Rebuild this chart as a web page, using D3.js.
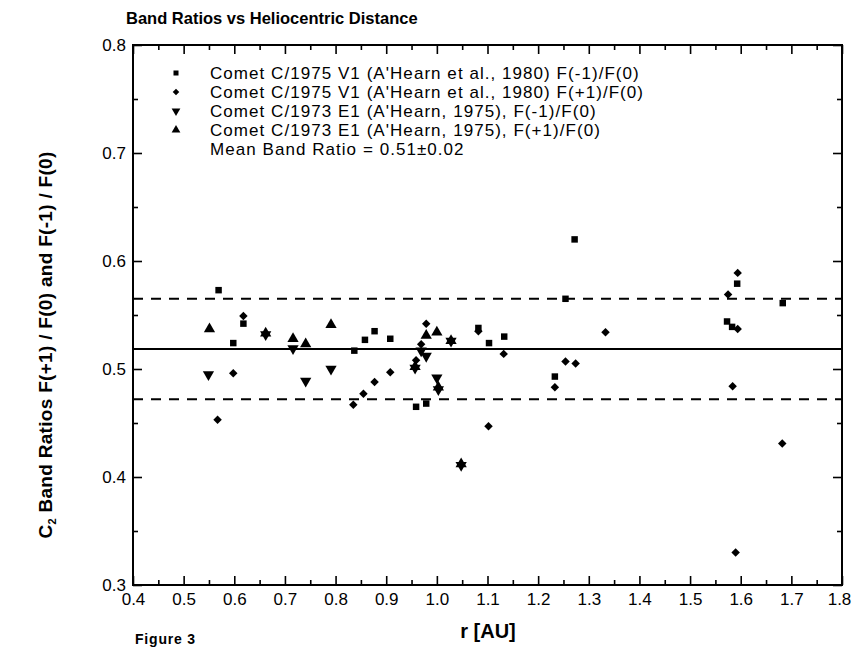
<!DOCTYPE html>
<html>
<head>
<meta charset="utf-8">
<script src="https://cdn.jsdelivr.net/npm/d3@7"></script>
<style>
  body { margin: 0; background: #fff; }
  svg { display: block; font-family: "Liberation Sans", Arial, sans-serif; }
</style>
</head>
<body>
<div id="chart"></div>
<script>
// C/1975 V1 (A'Hearn et al., 1980) F(-1)/F(0)  [r, ratio]
var v1Minus = [
  [0.569, 0.573], [0.598, 0.524], [0.618, 0.542], [0.837, 0.517], [0.858, 0.527],
  [0.877, 0.535], [0.908, 0.528], [0.959, 0.465], [0.979, 0.468], [1.082, 0.538],
  [1.103, 0.524], [1.133, 0.530], [1.233, 0.493], [1.254, 0.565], [1.272, 0.620],
  [1.573, 0.544], [1.583, 0.539], [1.593, 0.579], [1.683, 0.561]
];
// C/1975 V1 (A'Hearn et al., 1980) F(+1)/F(0)
var v1Plus = [
  [0.567, 0.453], [0.598, 0.496], [0.618, 0.549], [0.835, 0.467], [0.855, 0.477],
  [0.877, 0.488], [0.908, 0.497], [0.959, 0.508], [0.969, 0.523], [0.979, 0.542],
  [1.082, 0.535], [1.102, 0.447], [1.132, 0.514], [1.233, 0.483], [1.254, 0.507],
  [1.274, 0.505], [1.333, 0.534], [1.575, 0.569], [1.584, 0.484], [1.594, 0.589],
  [1.594, 0.537], [1.590, 0.330], [1.682, 0.431]
];
// C/1973 E1 (A'Hearn, 1975) F(-1)/F(0)
var e1Minus = [
  [0.549, 0.494], [0.662, 0.531], [0.716, 0.518], [0.741, 0.488], [0.791, 0.499],
  [0.957, 0.500], [0.969, 0.516], [0.979, 0.511], [1.000, 0.491], [1.003, 0.480],
  [1.028, 0.525], [1.048, 0.410]
];
// C/1973 E1 (A'Hearn, 1975) F(+1)/F(0)
var e1Plus = [
  [0.551, 0.538], [0.662, 0.534], [0.716, 0.529], [0.741, 0.524], [0.791, 0.542],
  [0.957, 0.503], [0.979, 0.532], [1.000, 0.535], [1.003, 0.484], [1.028, 0.527],
  [1.048, 0.413]
];

var legendLabels = [
  "Comet C/1975 V1 (A'Hearn et al., 1980) F(-1)/F(0)",
  "Comet C/1975 V1 (A'Hearn et al., 1980) F(+1)/F(0)",
  "Comet C/1973 E1 (A'Hearn, 1975), F(-1)/F(0)",
  "Comet C/1973 E1 (A'Hearn, 1975), F(+1)/F(0)"
];
var meanLabel = "Mean Band Ratio = 0.51\u00b10.02";

var meanRatio = 0.5185;
var meanBand = 0.0465;

var xMajor = [0.4, 0.5, 0.6, 0.7, 0.8, 0.9, 1.0, 1.1, 1.2, 1.3, 1.4, 1.5, 1.6, 1.7, 1.8];
var xMinor = [0.45, 0.55, 0.65, 0.75, 0.85, 0.95, 1.05, 1.15, 1.25, 1.35, 1.45, 1.55, 1.65, 1.75];
var yMajor = [0.3, 0.4, 0.5, 0.6, 0.7, 0.8];
var yMinor = [0.35, 0.45, 0.55, 0.65, 0.75];

var W = 852, H = 652;
var m = { left: 133, right: 10, top: 45, bottom: 67 };
var w = W - m.left - m.right, h = H - m.top - m.bottom;

var svg = d3.select('#chart').append('svg')
  .attr('width', W)
  .attr('height', H);

var g = svg.append('g')
  .attr('transform', 'translate(' + m.left + ',' + m.top + ')');

var xScale = d3.scaleLinear().domain([0.4, 1.8]).range([0, w]);
var yScale = d3.scaleLinear().domain([0.3, 0.8]).range([h, 0]);

var fmt = d3.format('.1f');

// axes, ticks inward on all four sides
function styleAxis(sel) {
  sel.selectAll('path').remove();
  sel.selectAll('line').attr('stroke', '#000').attr('stroke-width', 1.6);
  sel.selectAll('text').attr('fill', '#000').attr('font-size', 17);
}

var xAxisG = g.append('g').attr('transform', 'translate(0,' + h + ')')
  .call(d3.axisBottom(xScale).tickValues(xMajor).tickFormat(fmt).tickSizeInner(-9).tickSizeOuter(0).tickPadding(8))
  .call(styleAxis);
// last label sits on the page edge, nudge it in
xAxisG.selectAll('.tick text').filter(function (d) { return d === 1.8; }).attr('dx', -3);

g.append('g').attr('transform', 'translate(0,' + h + ')')
  .call(d3.axisBottom(xScale).tickValues(xMinor).tickFormat('').tickSizeInner(-5).tickSizeOuter(0))
  .call(styleAxis);
g.append('g')
  .call(d3.axisTop(xScale).tickValues(xMajor).tickFormat('').tickSizeInner(-9).tickSizeOuter(0))
  .call(styleAxis);
g.append('g')
  .call(d3.axisTop(xScale).tickValues(xMinor).tickFormat('').tickSizeInner(-5).tickSizeOuter(0))
  .call(styleAxis);

g.append('g')
  .call(d3.axisLeft(yScale).tickValues(yMajor).tickFormat(fmt).tickSizeInner(-9).tickSizeOuter(0).tickPadding(7))
  .call(styleAxis);
g.append('g')
  .call(d3.axisLeft(yScale).tickValues(yMinor).tickFormat('').tickSizeInner(-5).tickSizeOuter(0))
  .call(styleAxis);
g.append('g').attr('transform', 'translate(' + w + ',0)')
  .call(d3.axisRight(yScale).tickValues(yMajor).tickFormat('').tickSizeInner(-9).tickSizeOuter(0))
  .call(styleAxis);
g.append('g').attr('transform', 'translate(' + w + ',0)')
  .call(d3.axisRight(yScale).tickValues(yMinor).tickFormat('').tickSizeInner(-5).tickSizeOuter(0))
  .call(styleAxis);

// frame
g.append('rect')
  .attr('width', w).attr('height', h)
  .attr('fill', 'none').attr('stroke', '#000').attr('stroke-width', 2);

// mean and band lines
g.append('line')
  .attr('x1', 0).attr('x2', w)
  .attr('y1', yScale(meanRatio)).attr('y2', yScale(meanRatio))
  .attr('stroke', '#000').attr('stroke-width', 2);
[meanRatio + meanBand, meanRatio - meanBand].forEach(function (v) {
  g.append('line')
    .attr('x1', 0).attr('x2', w)
    .attr('y1', yScale(v)).attr('y2', yScale(v))
    .attr('stroke', '#000').attr('stroke-width', 2)
    .attr('stroke-dasharray', '10,8');
});

// markers
var series = [
  { data: v1Minus, type: d3.symbolSquare, size: 42, rot: 0 },
  { data: v1Plus, type: d3.symbolSquare, size: 36, rot: 45 },
  { data: e1Minus, type: d3.symbolTriangle, size: 55, rot: 180 },
  { data: e1Plus, type: d3.symbolTriangle, size: 55, rot: 0 }
];

series.forEach(function (s) {
  g.append('g').selectAll('path')
    .data(s.data)
    .enter().append('path')
    .attr('d', d3.symbol().type(s.type).size(s.size))
    .attr('transform', function (d) {
      var dy = s.type === d3.symbolTriangle ? (s.rot ? -1 : 1) : 0;
      return 'translate(' + xScale(d[0]) + ',' + (yScale(d[1]) + dy) + ') rotate(' + s.rot + ')';
    })
    .attr('fill', '#000');
});

// legend
var legend = svg.append('g');
legendLabels.forEach(function (t, i) {
  var y = 73 + i * 19;
  var s = series[i];
  legend.append('path')
    .attr('d', d3.symbol().type(s.type).size(s.size * 0.6))
    .attr('transform', 'translate(176,' + y + ') rotate(' + s.rot + ')')
    .attr('fill', '#000');
  legend.append('text')
    .attr('x', 210).attr('y', y + 6)
    .attr('font-size', 17).attr('letter-spacing', 1.05)
    .text(t);
});
legend.append('text')
  .attr('x', 210).attr('y', 73 + 4 * 19 + 6)
  .attr('font-size', 17).attr('letter-spacing', 1.05)
  .text(meanLabel);

// titles
svg.append('text')
  .attr('x', 126).attr('y', 24)
  .attr('font-size', 16.5).attr('font-weight', 'bold')
  .text('Band Ratios vs Heliocentric Distance');

svg.append('text')
  .attr('x', 488).attr('y', 638)
  .attr('text-anchor', 'middle')
  .attr('font-size', 20).attr('font-weight', 'bold')
  .text('r [AU]');

svg.append('text')
  .attr('x', 135).attr('y', 644)
  .attr('font-size', 14).attr('font-weight', 'bold').attr('letter-spacing', 0.8)
  .text('Figure 3');

var yl = svg.append('text')
  .attr('transform', 'translate(52,345) rotate(270)')
  .attr('text-anchor', 'middle')
  .attr('font-size', 19).attr('font-weight', 'bold').attr('letter-spacing', 0.3);
yl.append('tspan').text('C');
yl.append('tspan').attr('font-size', 11).attr('dy', 4).text('2');
yl.append('tspan').attr('dy', -4).text(' Band Ratios F(+1) / F(0) and F(-1) / F(0)');
</script>
</body>
</html>
